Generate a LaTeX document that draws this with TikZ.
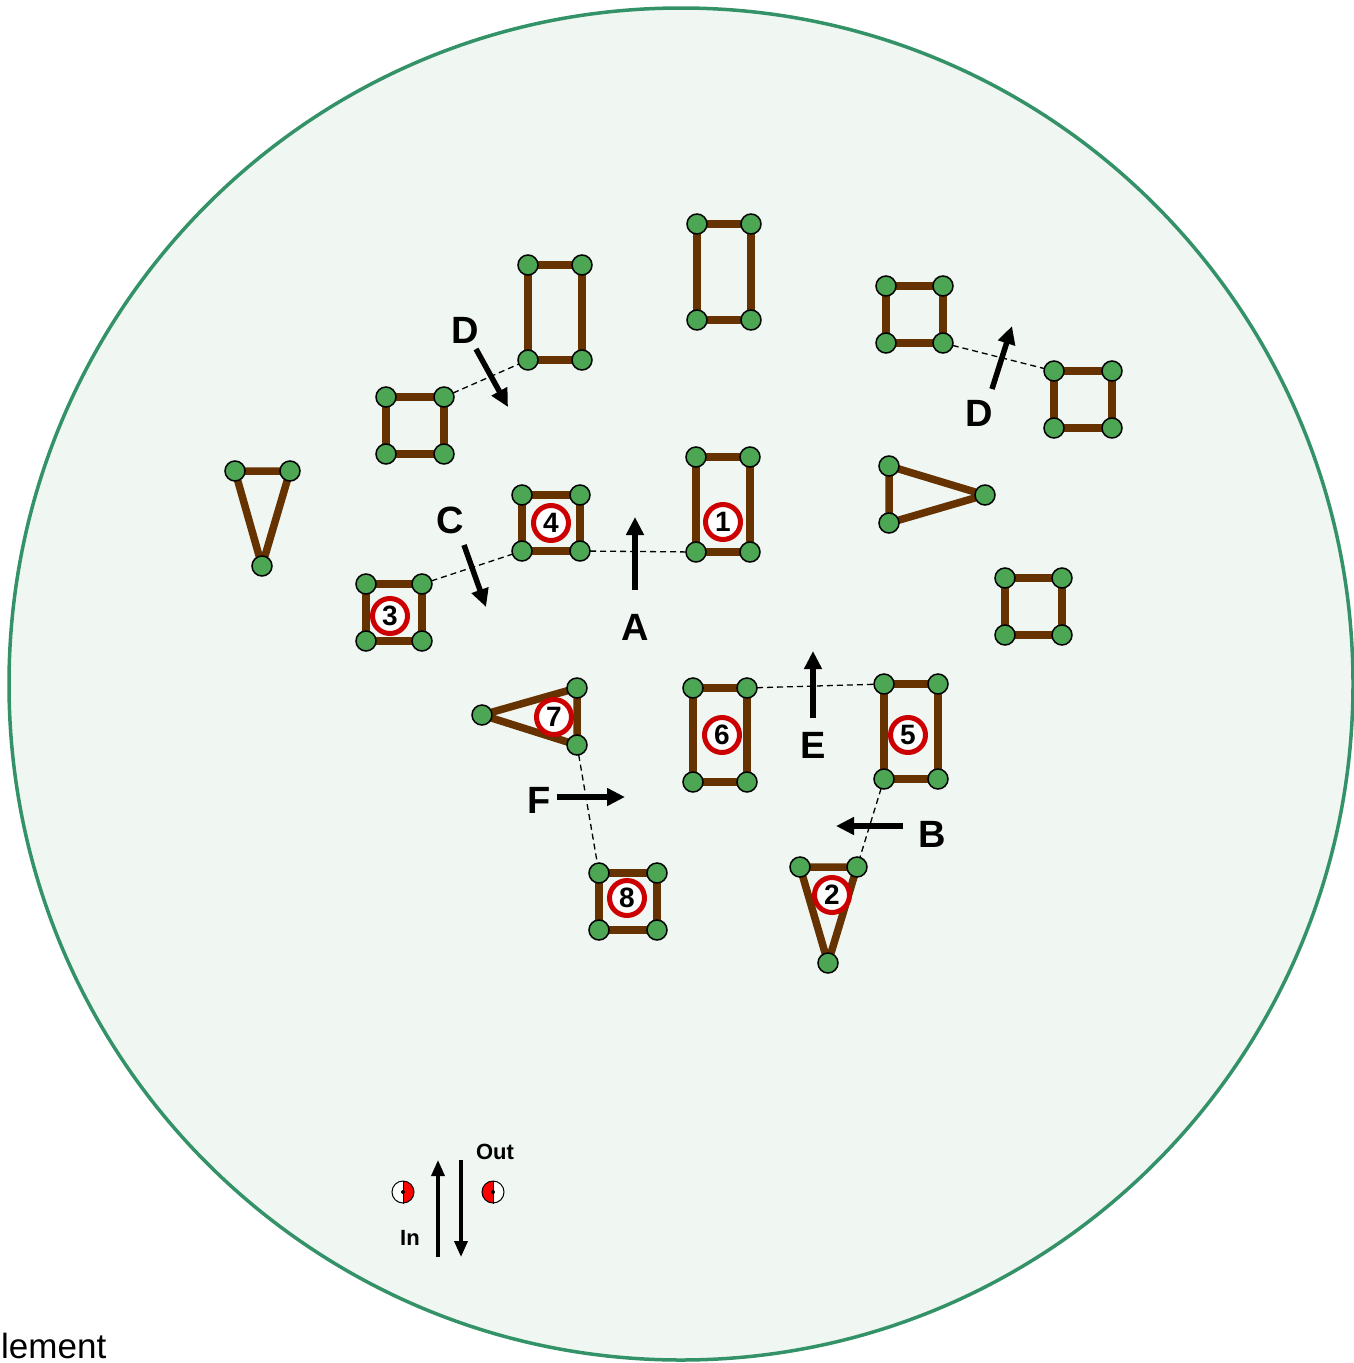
\documentclass[tikz,border=0pt]{standalone}
\usepackage{fontspec}
\setmainfont{Liberation Sans}
\usepackage{tikz}
\usetikzlibrary{arrows.meta,positioning}
\definecolor{rimgreen}{RGB}{52,146,104}
\definecolor{dishfill}{RGB}{240,246,242}
\definecolor{linkbrown}{RGB}{102,51,0}
\definecolor{sitegreen}{RGB}{76,166,84}
\definecolor{tagred}{RGB}{204,0,0}
\tikzset{>={Triangle[width=17pt,length=18pt]}}
\tikzset{
  link/.style={draw=linkbrown, line width=7.5pt, line join=round},
  site/.style={circle, fill=sitegreen, draw=black, line width=1.5pt,
    inner sep=0pt, minimum size=20pt},
  tag/.style={circle, draw=tagred, fill=white, line width=5pt, inner sep=0pt,
    minimum size=35pt, font=\fontsize{28}{28}\selectfont\bfseries},
  bond/.style={line width=1.3pt, dash pattern=on 6pt off 4pt},
  move/.style={->, line width=5.5pt},
  letter/.style={font=\fontsize{38}{38}\selectfont\bfseries},
  eye/.style={circle, draw=black, line width=1pt, inner sep=0pt, minimum size=22pt}
}

\begin{document}
\begin{tikzpicture}[x=1pt,y=-1pt]
  \useasboundingbox (0,0) rectangle (1353,1363);
  % dish
  \draw[rimgreen, fill=dishfill, line width=3.5pt] (681,684) ellipse [x radius=672pt, y radius=676pt];

  % unnumbered elements
  \coordinate (a1) at (697,224); \coordinate (a2) at (751,224);
  \coordinate (a3) at (751,320); \coordinate (a4) at (697,320);
  \coordinate (b1) at (528,265); \coordinate (b2) at (582,265);
  \coordinate (b3) at (582,360); \coordinate (b4) at (528,360);
  \coordinate (c1) at (386,397); \coordinate (c2) at (444,397);
  \coordinate (c3) at (444,454); \coordinate (c4) at (386,454);
  \coordinate (d1) at (886,286); \coordinate (d2) at (943,286);
  \coordinate (d3) at (943,343); \coordinate (d4) at (886,343);
  \coordinate (e1) at (1054,371); \coordinate (e2) at (1112,371);
  \coordinate (e3) at (1112,428); \coordinate (e4) at (1054,428);
  \coordinate (f1) at (235,471); \coordinate (f2) at (290,471);
  \coordinate (f3) at (262,566);
  \coordinate (g1) at (889,466); \coordinate (g2) at (985,495);
  \coordinate (g3) at (889,523);
  \coordinate (h1) at (1005,578); \coordinate (h2) at (1062,578);
  \coordinate (h3) at (1062,635); \coordinate (h4) at (1005,635);

  % numbered elements
  \coordinate (p11) at (696,457); \coordinate (p12) at (750,457);
  \coordinate (p13) at (750,552); \coordinate (p14) at (696,552);
  \coordinate (p21) at (800,867); \coordinate (p22) at (857,867);
  \coordinate (p23) at (828,963);
  \coordinate (p31) at (366,584); \coordinate (p32) at (422,584);
  \coordinate (p33) at (422,641); \coordinate (p34) at (366,641);
  \coordinate (p41) at (522,495); \coordinate (p42) at (580,495);
  \coordinate (p43) at (580,551); \coordinate (p44) at (522,551);
  \coordinate (p51) at (884,684); \coordinate (p52) at (938,684);
  \coordinate (p53) at (938,779); \coordinate (p54) at (884,779);
  \coordinate (p61) at (693,688); \coordinate (p62) at (747,688);
  \coordinate (p63) at (747,782); \coordinate (p64) at (693,782);
  \coordinate (p71) at (577,688); \coordinate (p72) at (482,715);
  \coordinate (p73) at (577,745);
  \coordinate (p81) at (599,873); \coordinate (p82) at (657,873);
  \coordinate (p83) at (657,930); \coordinate (p84) at (599,930);

  % dashed bonds
  \draw[bond] (c2) -- (b4);
  \draw[bond] (d3) -- (e1);
  \draw[bond] (p43) -- (p14);
  \draw[bond] (p32) -- (p44);
  \draw[bond] (p62) -- (p51);
  \draw[bond] (p73) -- (p81);
  \draw[bond] (p54) -- (p22);

  % links
  \foreach \s in {a,b,c,d,e,h,p1,p3,p4,p5,p6,p8}
    \draw[link] (\s1) -- (\s2) -- (\s3) -- (\s4) -- cycle;
  \foreach \s in {f,g,p2,p7}
    \draw[link] (\s1) -- (\s2) -- (\s3) -- cycle;

  % sites
  \foreach \s in {a,b,c,d,e,h,p1,p3,p4,p5,p6,p8}
    \foreach \k in {1,...,4}
      \node[site] at (\s\k) {};
  \foreach \s in {f,g,p2,p7}
    \foreach \k in {1,...,3}
      \node[site] at (\s\k) {};

  % tags
  \node[tag] (t1) at (723,522) {1};
  \node[tag] (t2) at (832,895) {2};
  \node[tag] (t3) at (390,616) {3};
  \node[tag] (t4) at (551,523) {4};
  \node[tag] (t5) at (908,735) {5};
  \node[tag] (t6) at (722,735) {6};
  \node[tag] (t7) at (554,717) {7};
  \node[tag] (t8) at (627,898) {8};

  % moves
  \draw[move] (476,349) -- (508,407);
  \node[letter] (lD1) at (465,330) {D};
  \draw[move] (992,389) -- (1012,326);
  \node[letter] (lD2) at (979,413) {D};
  \draw[move] (464,545) -- (486,607);
  \node[letter] (lC) at (450,520) {C};
  \draw[move] (635,590) -- (635,517);
  \node[letter] (lA) at (635,627) {A};
  \draw[move] (813,718) -- (813,651);
  \node[letter] (lE) at (813,745) {E};
  \node[letter] (lF) at (539,800) {F};
  \draw[move] (557,797) -- (625,797);
  \node[letter] (lB) at (932,834) {B};
  \draw[move] (903,826) -- (836,826);

  % legend
  \coordinate (inC) at (403,1192);
  \coordinate (outC) at (493,1192);
  \fill[white] (inC) circle (11pt);
  \fill[white] (outC) circle (11pt);
  \begin{scope}
    \clip (inC) circle (11pt);
    \fill[red] (inC) ++(0,-12) rectangle ++(12,24);
  \end{scope}
  \begin{scope}
    \clip (outC) circle (11pt);
    \fill[red] (outC) ++(0,-12) rectangle ++(-12,24);
  \end{scope}
  \node[eye] (inE) at (inC) {};
  \node[eye] (outE) at (outC) {};
  \draw[line width=1pt] (inE.north) -- (inE.south);
  \draw[line width=1pt] (outE.north) -- (outE.south);
  \fill (inC) circle (2pt);
  \fill (outC) circle (2pt);
  \draw[->, >={Triangle[width=13pt,length=16pt]}, line width=3.5pt] (438,1257) -- (438,1160);
  \draw[->, >={Triangle[width=13pt,length=16pt]}, line width=3.5pt] (461,1160) -- (461,1257);
  \node[font=\fontsize{22}{22}\selectfont\bfseries] (lOut) at (495,1152) {Out};
  \node[font=\fontsize{22}{22}\selectfont\bfseries] (lIn) at (410,1238) {In};

  \node[anchor=base west, inner sep=0pt, font=\fontsize{35}{35}\selectfont] (lEl) at (1,1358) {lement};
\end{tikzpicture}
\end{document}
